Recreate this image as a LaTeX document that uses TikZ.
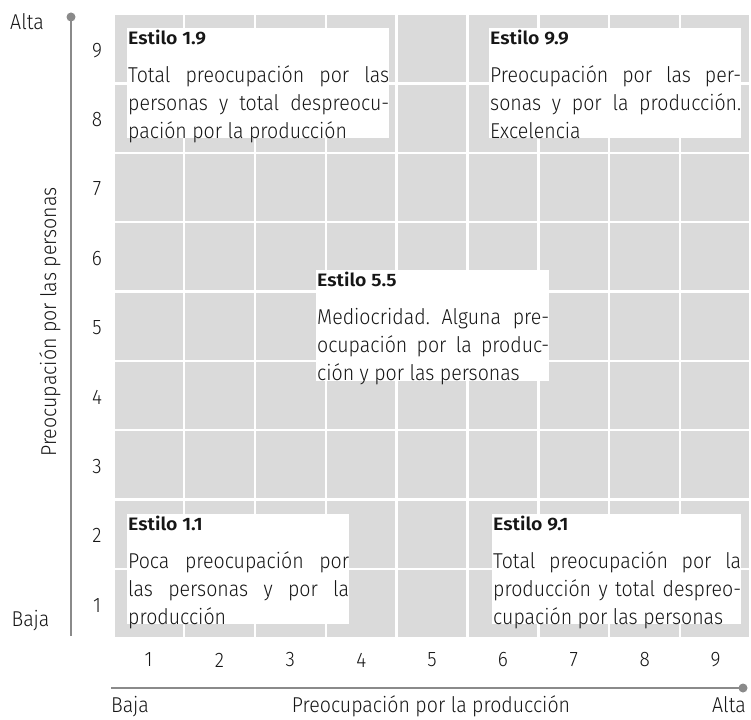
\documentclass[tikz,border=0pt]{standalone}
\usepackage{fontspec}
\setmainfont{Fira Sans Light}[FakeStretch=0.91, BoldFont=Fira Sans SemiBold]
\newfontfamily\ttlfont{Fira Sans SemiBold}[FakeStretch=1.08]
\definecolor{cellgray}{HTML}{DADADA}
\definecolor{axisgray}{HTML}{8A8A8A}
\definecolor{ink}{HTML}{161616}
\begin{document}
\frenchspacing
\begin{tikzpicture}[x=1pt,y=-1pt,
  every node/.style={inner sep=0pt, text=ink},
  body/.style={font=\fontsize{21.5}{24}\selectfont, anchor=base west},
  ttl/.style={font=\ttlfont\fontsize{18}{20}\selectfont, anchor=base west},
  tick/.style={font=\fontsize{21}{24}\selectfont},
  axislbl/.style={font=\fontsize{21.5}{24}\selectfont},
  axisline/.style={draw=axisgray, line width=2.5pt},
  boxfill/.style={fill=white}]
\useasboundingbox (0,0) rectangle (751,719);
% grid
\fill[cellgray] (115,15) rectangle (749,636.5);
\foreach \k in {1,...,8} {
  \draw[white, line width=2.4pt] ({113.2+70.86*\k},15) -- ({113.2+70.86*\k},636.5);
  \draw[white, line width=2.4pt] (115,{14+69.36*\k}) -- (749,{14+69.36*\k});
}
% axes
\coordinate (ytop) at (71,17);
\coordinate (ybot) at (71,636);
\coordinate (xleft) at (111,688);
\coordinate (xright) at (743,688);
\draw[axisline] (ybot) -- (ytop);
\fill[axisgray] (ytop) circle (4.5);
\draw[axisline] (xleft) -- (xright);
\fill[axisgray] (xright) circle (4.5);
% tick numbers
\foreach \k in {1,...,9} {
  \node[tick] (ty\k) at (97,{14+69.36*(9-\k+0.5)+1.5}) {\k};
  \node[tick] (tx\k) at ({113.2+70.86*(\k-0.5)},660) {\k};
}
% axis labels
\node[axislbl, anchor=base west] (yalta) at (10,29.5) {Alta};
\node[axislbl, anchor=base west] (ybaja) at (11.5,626.5) {Baja};
\node[axislbl, anchor=base, rotate=90] (ylabel) at (56,322) {Preocupación por las personas};
\node[axislbl, anchor=base west] (xbaja) at (111,712.5) {Baja};
\node[axislbl, anchor=base] (xlabel) at (431,712.5) {Preocupación por la producción};
\node[axislbl, anchor=base east] (xalta) at (746,712.5) {Alta};
% box 1.9
\fill[boxfill] (127,28) rectangle (389,138.5);
\node[ttl] (t19) at (128,44.5) {Estilo 1.9};
\node[body] (a19) at (128,82.5) {\makebox[261pt][s]{Total preocupación por las}};
\node[body] (b19) at (128,110.5) {\makebox[261pt][s]{personas y total despreocu-}};
\node[body] (c19) at (128,138.5) {pación por la producción};
% box 9.9
\fill[boxfill] (489,28) rectangle (741,138.5);
\node[ttl] (t99) at (490,44.5) {Estilo 9.9};
\node[body] (a99) at (490,82.5) {\makebox[251pt][s]{Preocupación por las per-}};
\node[body] (b99) at (490,110.5) {\makebox[251pt][s]{sonas y por la producción.}};
\node[body] (c99) at (490,138.5) {Excelencia};
% box 5.5
\fill[boxfill] (316,270) rectangle (549,380.5);
\node[ttl] (t55) at (317,286.5) {Estilo 5.5};
\node[body] (a55) at (317,324.5) {\makebox[232pt][s]{Mediocridad. Alguna pre-}};
\node[body] (b55) at (317,352.5) {\makebox[232pt][s]{ocupación por la produc-}};
\node[body] (c55) at (317,380.5) {ción y por las personas};
% box 1.1
\fill[boxfill] (127,513.5) rectangle (349,624);
\node[ttl] (t11) at (128,530) {Estilo 1.1};
\node[body] (a11) at (128,568) {\makebox[221pt][s]{Poca preocupación por}};
\node[body] (b11) at (128,596) {\makebox[221pt][s]{las personas y por la}};
\node[body] (c11) at (128,624) {producción};
% box 9.1
\fill[boxfill] (492,513.5) rectangle (741,624);
\node[ttl] (t91) at (493,530) {Estilo 9.1};
\node[body] (a91) at (493,568) {\makebox[248pt][s]{Total preocupación por la}};
\node[body] (b91) at (493,596) {\makebox[248pt][s]{producción y total despreo-}};
\node[body] (c91) at (493,624) {cupación por las personas};
\end{tikzpicture}
\end{document}
